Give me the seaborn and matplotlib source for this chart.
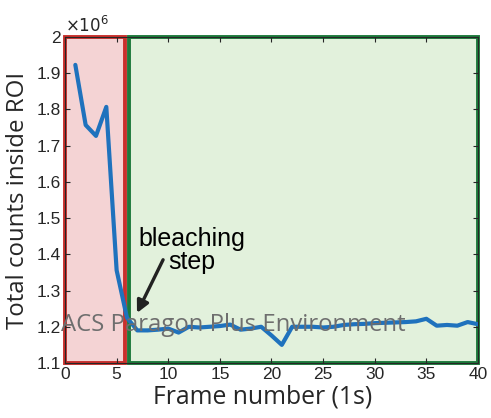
import numpy as np
import pandas as pd
import seaborn as sns
import matplotlib.pyplot as plt
from matplotlib.patches import Rectangle

frames = list(range(1, 41))
counts = [1.923, 1.757, 1.727, 1.807, 1.356, 1.225, 1.190, 1.190, 1.192, 1.195,
          1.184, 1.200, 1.198, 1.200, 1.202, 1.206, 1.192, 1.195, 1.200, 1.176,
          1.150, 1.200, 1.200, 1.200, 1.198, 1.200, 1.205, 1.207, 1.208, 1.210,
          1.211, 1.212, 1.213, 1.215, 1.222, 1.203, 1.205, 1.203, 1.213, 1.207]
xticks = [0, 5, 10, 15, 20, 25, 30, 35, 40]
yticks = [1.1, 1.2, 1.3, 1.4, 1.5, 1.6, 1.7, 1.8, 1.9, 2.0]
ytick_labels = ["1.1", "1.2", "1.3", "1.4", "1.5", "1.6", "1.7", "1.8", "1.9", "2"]

sns.set_theme(style="white")
plt.rcParams['font.family'] = ['Liberation Sans', 'DejaVu Sans']

df = pd.DataFrame({"frame": frames, "counts": counts})

fig = plt.figure(figsize=(4.91, 4.18), dpi=100)
ax = fig.add_axes([0.1324, 0.1316, 0.9735 - 0.1324, 0.9115 - 0.1316])

ax.add_patch(Rectangle((0, 1.1), 5.85, 0.9, facecolor="#f4d3d4", edgecolor="#c8302c",
                       linewidth=2.8, zorder=1, clip_on=False))
ax.add_patch(Rectangle((6.15, 1.1), 33.85, 0.9, facecolor="#e2f1dc", edgecolor="#1d7a3c",
                       linewidth=2.8, zorder=1, clip_on=False))

sns.lineplot(data=df, x="frame", y="counts", ax=ax, color="#1f72bd", linewidth=3, zorder=3)

ax.set_xlim(0, 40)
ax.set_ylim(1.1, 2.0)
ax.set_xticks(xticks)
ax.set_yticks(yticks)
ax.set_yticklabels(ytick_labels)
ax.tick_params(direction="in", length=3.5, width=0.8, top=True, right=True,
               bottom=True, left=True, labelsize=12.5, pad=3, colors="#262626")
ax.set_axisbelow(False)
for s in ax.spines.values():
    s.set_color("#262626")
    s.set_linewidth(0.8)

ax.set_xlabel("Frame number (1s)", fontsize=17.8, family=["Open Sans", "DejaVu Sans"],
              color="#262626", labelpad=5)
ax.xaxis.set_label_coords(0.478, -0.105)
ax.xaxis.label.set_va("center")
ax.set_ylabel("Total counts inside ROI", fontsize=17.3, family=["Open Sans", "DejaVu Sans"],
              color="#262626", labelpad=5)

ax.text(0.0, 1.005, r"$\times10^{6}$", transform=ax.transAxes, fontsize=12,
        color="#262626", ha="left", va="bottom")

ax.text(12.3, 1.41, "bleaching\nstep", ha="center", va="center", fontsize=18,
        color="black", linespacing=0.95, zorder=5)
ax.annotate("", xy=(6.97, 1.238), xytext=(9.5, 1.385),
            arrowprops=dict(arrowstyle="-|>", color="#222222", lw=2.4,
                            mutation_scale=18, shrinkA=0, shrinkB=0),
            zorder=5)

fig.text(0.4756, 0.2225, "ACS Paragon Plus Environment", fontsize=17.2, color="#6e6e6e",
         ha="center", va="center", family=["Open Sans", "DejaVu Sans"], zorder=10)

fig.savefig("out.png", dpi=100)
